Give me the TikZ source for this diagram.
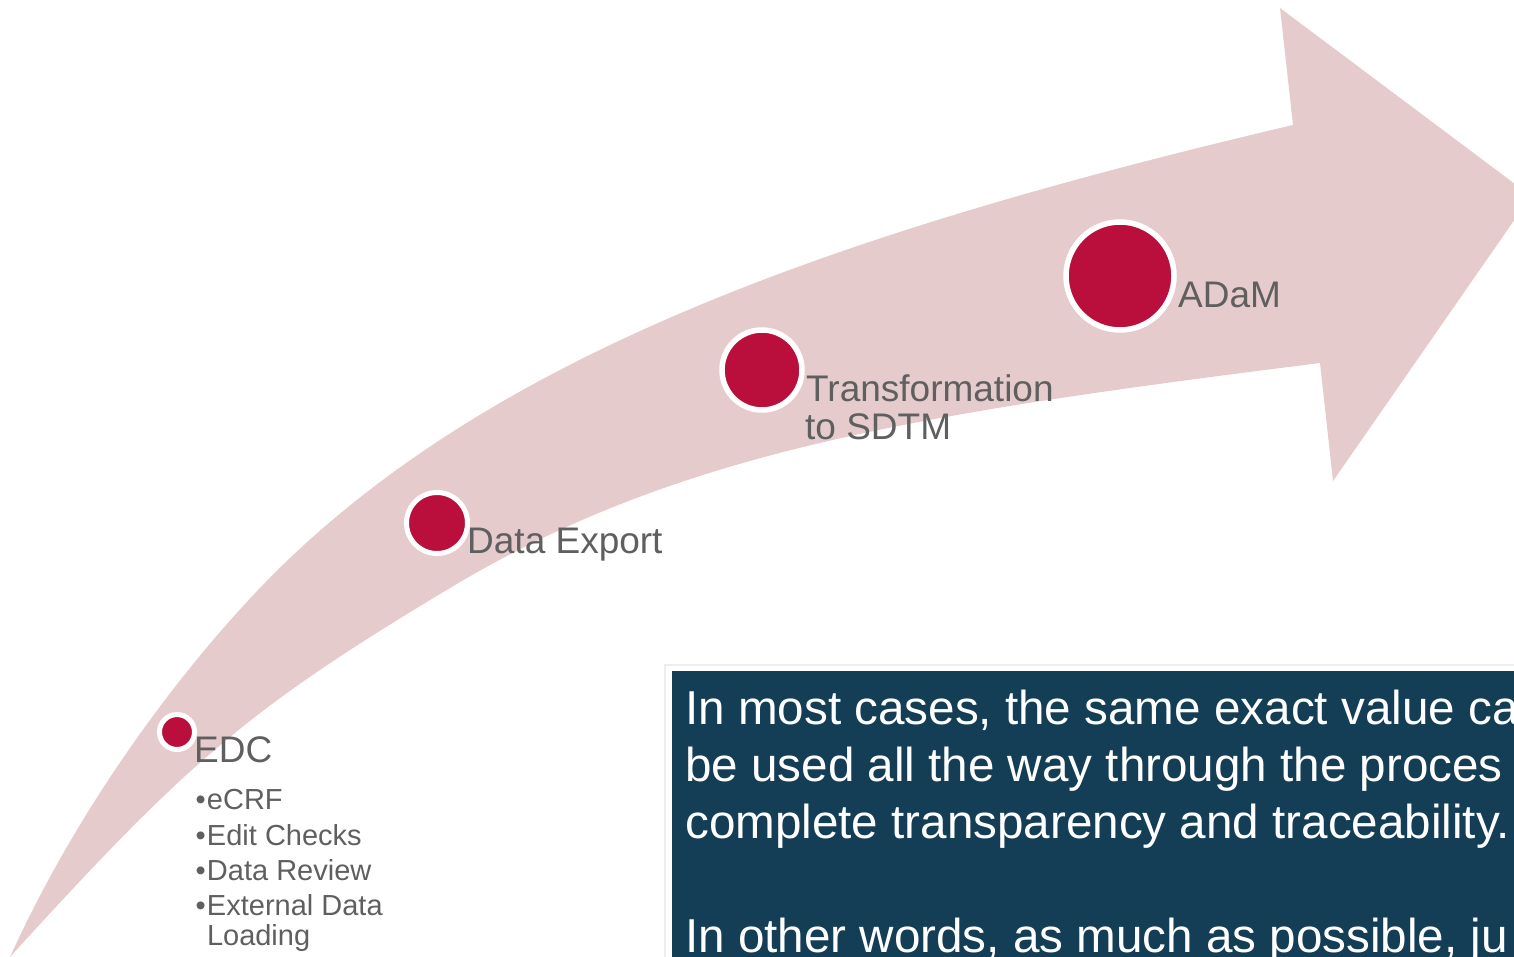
\documentclass[tikz,border=0pt]{standalone}
\usepackage{fontspec}
\setmainfont{Liberation Sans}
\definecolor{band}{RGB}{230,203,205}
\definecolor{dotred}{RGB}{186,15,60}
\definecolor{labelgray}{RGB}{95,95,95}
\definecolor{navy}{RGB}{20,61,86}
\definecolor{shadowgray}{RGB}{238,238,238}
\newcommand{\bul}{\makebox[11.3pt][l]{•}}
\begin{document}
\begin{tikzpicture}[x=1pt,y=-1pt,
  dot/.style={circle, fill=dotred, draw=white, inner sep=0pt},
  lbl/.style={text=labelgray, font=\fontsize{37}{40}\selectfont, anchor=base west, inner sep=0pt},
  item/.style={text=labelgray, font=\fontsize{29}{33}\selectfont, anchor=base west, inner sep=0pt},
  boxtext/.style={text=white, font=\fontsize{47.6}{57}\selectfont, anchor=base west, inner sep=0pt}]
\useasboundingbox (0,0) rectangle (1514,956);
\clip (0,0) rectangle (1514,956);
% curved arrow
\fill[band] (10,957) .. controls (90,781) and (210,634) .. (290,558)
  .. controls (510,349) and (843,230.75) .. (1293,125)
  -- (1280,8) -- (1531,196) -- (1333,481) -- (1320,363)
  .. controls (920,413.4) and (680,450) .. (450,588)
  .. controls (250,708) and (190,759) .. (10,957) -- cycle;
% dots
\node[dot, line width=5pt, minimum size=35pt] (edcdot) at (177,732) {};
\node[dot, line width=5pt, minimum size=61pt] (exportdot) at (437,523) {};
\node[dot, line width=5.5pt, minimum size=80pt] (sdtmdot) at (762,370) {};
\node[dot, line width=5.5pt, minimum size=108pt] (adamdot) at (1120,276) {};
% labels
\node[lbl] (edc) at (194,762) {EDC};
\node[item] (i1) at (195.5,809) {\bul eCRF};
\node[item] (i2) at (195.5,845) {\bul Edit Checks};
\node[item] (i3) at (195.5,880) {\bul Data Review};
\node[item] (i4) at (195.5,915) {\bul External Data};
\node[item] (i5) at (206.8,945) {Loading};
\node[lbl] (export) at (467,553) {Data Export};
\node[lbl] (trans1) at (806,401) {Transformation};
\node[lbl] (trans2) at (805,439) {to SDTM};
\node[lbl] (adam) at (1178,307) {ADaM};
% text box
\node[fill=white, draw=shadowgray, line width=2pt, anchor=north west, minimum width=900pt, minimum height=400pt, inner sep=0pt] (shadow) at (664,664) {};
\node[fill=navy, anchor=north west, minimum width=900pt, minimum height=400pt, inner sep=0pt] (box) at (672,671) {};
\node[boxtext] (l1) at (685,724) {In most cases, the same exact value ca};
\node[boxtext] (l2) at (685,781) {be used all the way through the proces};
\node[boxtext] (l3) at (685,838) {complete transparency and traceability.};
\node[boxtext] (l4) at (685,952) {In other words, as much as possible, ju};
\end{tikzpicture}
\end{document}
